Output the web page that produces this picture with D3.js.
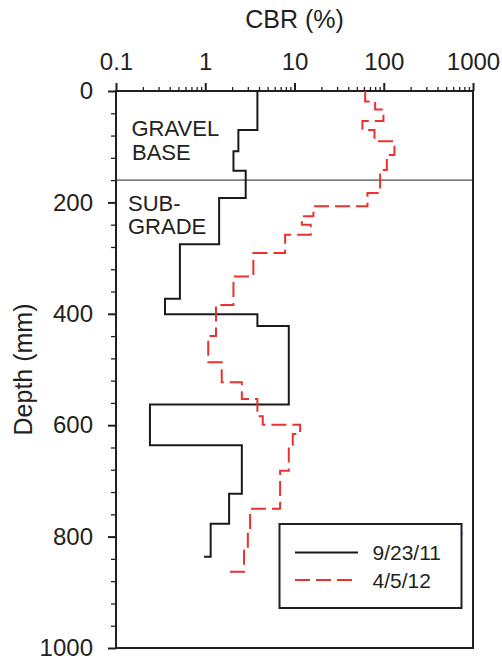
<!DOCTYPE html>
<html>
<head>
<meta charset="utf-8">
<script src="https://cdn.jsdelivr.net/npm/d3@7"></script>
<style>
  html, body { margin: 0; padding: 0; background: #fff; }
  svg { display: block; }
  text { font-family: "Liberation Sans", Arial, sans-serif; fill: #231f20; }
</style>
</head>
<body>
<svg id="chart" width="502" height="660"></svg>
<script>
// ---- Data ----
const xTickValues = [0.1, 1, 10, 100, 1000];
const xTickLabels = ["0.1", "1", "10", "100", "1000"];
const yTickValues = [0, 200, 400, 600, 800, 1000];
const yTickLabels = ["0", "200", "400", "600", "800", "1000"];

// 9/23/11 series: top depth of each layer (mm) and CBR (%)
const sep2011Depth = [0, 70, 108, 143, 192, 275, 373, 401, 422, 563, 636, 723, 777, 836];
const sep2011CBR   = [3.84, 2.35, 2.07, 2.84, 1.43, 0.52, 0.354, 3.84, 8.63, 0.24, 2.57, 1.85, 1.15, 0.97];

// 4/5/12 series
const apr2012Depth = [0, 19, 33, 54, 70, 90, 115, 142, 183, 207, 225, 240, 258, 291, 333, 384, 440, 487, 523, 553, 584, 599, 616, 635, 682, 750, 787, 820, 863];
const apr2012CBR   = [61.9, 80.1, 99.2, 57.7, 78.7, 131.8, 108.3, 91.1, 65.7, 16.3, 12.1, 15.2, 7.85, 3.46, 2.07, 1.32, 1.08, 1.53, 2.57, 3.84, 4.41, 11.56, 9.57, 8.63, 6.9, 3.18, 3.0, 2.72, 1.86];

const seriesNames = ["9/23/11", "4/5/12"];
const layerBoundary = 160;
const layerLabels = [["GRAVEL", "BASE"], ["SUB-", "GRADE"]];
const sectionLabel = "C-6";

(function () {
// ---- Layout ----
const svg = d3.select("#chart");
const pL = 116, pR = 473, pT = 91, pB = 648;
const x = d3.scaleLog().domain([0.1, 1000]).range([pL, pR]);
const y = d3.scaleLinear().domain([0, 1000]).range([pT, pB]);

// Minor ticks
const xMinor = [];
for (let e = -1; e < 3; e++) for (let k = 2; k <= 9; k++) xMinor.push(k * Math.pow(10, e));
const yMinor = d3.range(0, 1001, 40).filter(v => v % 200 !== 0);

// Gray layer boundary
svg.append("line")
  .attr("x1", pL).attr("x2", pR)
  .attr("y1", y(layerBoundary)).attr("y2", y(layerBoundary))
  .attr("stroke", "#808080").attr("stroke-width", 1.8);

// Axes
const xAxis = svg.append("g").attr("transform", `translate(0,${pT})`)
  .call(d3.axisTop(x).tickValues(xTickValues).tickFormat((d, i) => xTickLabels[i]).tickSize(8).tickPadding(13));
const xAxisMinor = svg.append("g").attr("transform", `translate(0,${pT})`)
  .call(d3.axisTop(x).tickValues(xMinor).tickFormat("").tickSize(4));
const yAxis = svg.append("g").attr("transform", `translate(${pL},0)`)
  .call(d3.axisLeft(y).tickValues(yTickValues).tickFormat((d, i) => yTickLabels[i]).tickSize(8).tickPadding(15));
const yAxisMinor = svg.append("g").attr("transform", `translate(${pL},0)`)
  .call(d3.axisLeft(y).tickValues(yMinor).tickFormat("").tickSize(5));

[xAxis, xAxisMinor, yAxis, yAxisMinor].forEach(g => {
  g.select(".domain").remove();
  g.selectAll(".tick line").attr("stroke", "#231f20").attr("stroke-width", 1.3);
  g.selectAll("text").style("font-size", "24px").attr("fill", "#231f20")
    .style("font-family", "'Liberation Sans', Arial, sans-serif");
});
xAxis.selectAll(".tick line").attr("stroke-width", 2);
yAxis.selectAll(".tick line").attr("stroke-width", 2);

// Frame
svg.append("rect")
  .attr("x", pL).attr("y", pT)
  .attr("width", pR - pL).attr("height", pB - pT)
  .attr("fill", "none").attr("stroke", "#231f20").attr("stroke-width", 2);

// Axis titles
svg.append("text").attr("x", (pL + pR) / 2).attr("y", 28)
  .attr("text-anchor", "middle").style("font-size", "25px").text("CBR (%)");
svg.append("text")
  .attr("transform", `translate(32,${(pT + pB) / 2}) rotate(-90)`)
  .attr("text-anchor", "middle").style("font-size", "25px").text("Depth (mm)");

// Step lines
function stepPoints(depths, vals) {
  const pts = [];
  for (let i = 0; i < depths.length; i++) {
    pts.push([vals[i], depths[i]]);
    if (i < depths.length - 1) pts.push([vals[i], depths[i + 1]]);
  }
  return pts;
}
const line = d3.line().x(d => x(d[0])).y(d => y(d[1]));

svg.append("path")
  .attr("d", line(stepPoints(sep2011Depth, sep2011CBR)))
  .attr("fill", "none").attr("stroke", "#1a1a1a").attr("stroke-width", 2);

svg.append("path")
  .attr("d", line(stepPoints(apr2012Depth, apr2012CBR)))
  .attr("fill", "none").attr("stroke", "#e8332e").attr("stroke-width", 2)
  .attr("stroke-dasharray", "15,6");

// Layer labels
svg.append("text").attr("x", 131.5).attr("y", 136).style("font-size", "22px").text(layerLabels[0][0]);
svg.append("text").attr("x", 132).attr("y", 160).style("font-size", "22px").text(layerLabels[0][1]);
svg.append("text").attr("x", 128).attr("y", 210.5).style("font-size", "22px").text(layerLabels[1][0]);
svg.append("text").attr("x", 128).attr("y", 234).style("font-size", "22px").text(layerLabels[1][1]);

// Section label
svg.append("text").attr("x", 431).attr("y", 538).style("font-size", "20px")
  .style("fill", "#3f3294").text(sectionLabel);

// Legend
const lg = svg.append("g");
lg.append("rect").attr("x", 279.5).attr("y", 524).attr("width", 182).attr("height", 84)
  .attr("fill", "#fff").attr("stroke", "#231f20").attr("stroke-width", 2);
lg.append("line").attr("x1", 295).attr("x2", 358).attr("y1", 552.5).attr("y2", 552.5)
  .attr("stroke", "#1a1a1a").attr("stroke-width", 2);
lg.append("line").attr("x1", 295).attr("x2", 352).attr("y1", 580).attr("y2", 580)
  .attr("stroke", "#e8332e").attr("stroke-width", 2).attr("stroke-dasharray", "15,6");
lg.append("text").attr("x", 372.5).attr("y", 560).style("font-size", "21px").text(seriesNames[0]);
lg.append("text").attr("x", 372.5).attr("y", 587.5).style("font-size", "21px").text(seriesNames[1]);
})();
</script>
</body>
</html>
